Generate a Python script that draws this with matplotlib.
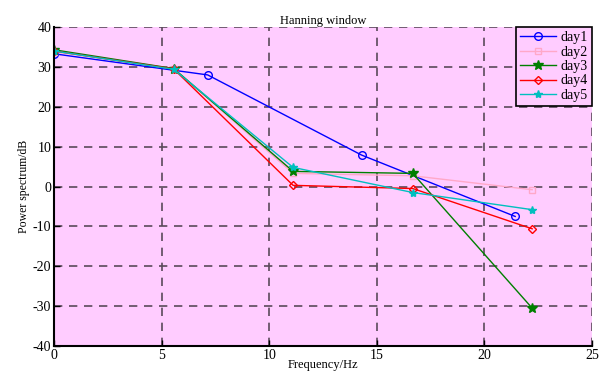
import matplotlib
matplotlib.use("Agg")
import matplotlib.pyplot as plt

plt.rcParams['font.family'] = ['Liberation Serif', 'DejaVu Serif']
plt.rcParams['axes.unicode_minus'] = False

# Spectrum samples for each day
freq_day1 = [0, 7.14, 14.29, 21.43]
day1 = [33.3, 28.0, 7.9, -7.5]

freq = [0, 5.56, 11.11, 16.67, 22.22]
day2 = [33.8, 29.6, 3.3, 2.7, -0.8]
day3 = [34.3, 29.6, 3.8, 3.3, -30.5]
day4 = [34.0, 29.5, 0.3, -0.5, -10.6]
day5 = [34.0, 29.4, 4.8, -1.5, -5.8]

series = [
    ("day1", freq_day1, day1, "#0000ff", "o", 5.5, False),
    ("day2", freq, day2, "#ffa8c8", "s", 4.5, False),
    ("day3", freq, day3, "#007f00", "*", 7, True),
    ("day4", freq, day4, "#ff0000", "D", 4.5, False),
    ("day5", freq, day5, "#00bfbf", "*", 6, True),
]

fig = plt.figure(figsize=(6.05, 3.71), dpi=100)
ax = fig.add_axes([0.0893, 0.0674, 0.8892, 0.8596])
ax.set_facecolor("#ffccff")

for name, x, y, c, m, ms, filled in series:
    ax.plot(x, y, color=c, marker=m, markersize=ms,
            markerfacecolor=c if filled else "none", markeredgecolor=c,
            markeredgewidth=1.0, linewidth=1.0, label=name)

ax.set_xlim(0, 25)
ax.set_ylim(-40, 40)
ax.set_xticks([0, 5, 10, 15, 20, 25])
ax.set_yticks([-40, -30, -20, -10, 0, 10, 20, 30, 40])
ax.grid(True, color="#5a4a5a", linestyle=(0, (5, 4)), linewidth=1.2)
ax.tick_params(direction="in", labelsize=10, length=4, width=1, pad=2)

for side in ("top", "right"):
    ax.spines[side].set_visible(False)
for side in ("left", "bottom"):
    ax.spines[side].set_linewidth(1.5)

ax.set_title("Hanning window", fontsize=9, pad=2)
ax.set_xlabel("Frequency/Hz", fontsize=9, labelpad=-2)
ax.set_ylabel("Power spectrum/dB", fontsize=8.5, labelpad=2)

leg = ax.legend(loc="upper right", fontsize=10, handlelength=2.6,
                borderaxespad=0, labelspacing=0.1, borderpad=0.3,
                handletextpad=0.3, fancybox=False, framealpha=1)
leg.get_frame().set_edgecolor("black")
leg.get_frame().set_linewidth(1.2)
leg.get_frame().set_facecolor("#ffccff")

fig.savefig("out.png", dpi=100)
